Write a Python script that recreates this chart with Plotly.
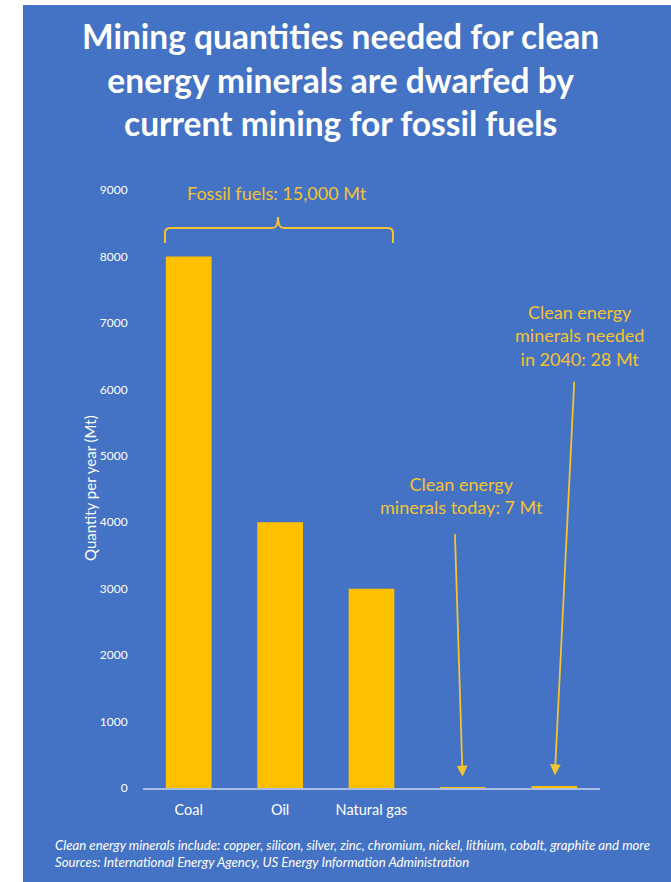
import plotly.graph_objects as go

# Annual mining quantities (Mt)
categories = ["Coal", "Oil", "Natural gas", "Clean energy minerals today", "Clean energy minerals 2040"]
tick_labels = ["Coal", "Oil", "Natural gas", "", ""]
quantities = [8000, 4000, 3000, 7, 28]
y_ticks = [0, 1000, 2000, 3000, 4000, 5000, 6000, 7000, 8000, 9000]

fossil_total = sum(quantities[:3])

W, H = 671, 882
ML, MR, MT, MB = 143, 71, 190, 94
PW, PH = W - ML - MR, H - MT - MB

BLUE = "#4472C4"
GOLD = "#FFC000"
LABEL_GOLD = "#F4C330"
FONT = "Lato"


def px(x):
    return (x - ML) / PW


def py(y):
    return (H - MB - y) / PH


fig = go.Figure(
    go.Bar(
        x=categories,
        y=quantities,
        marker=dict(color=GOLD, line=dict(width=0)),
        hoverinfo="x+y",
    )
)

shapes = [
    # blue panel behind everything
    dict(type="rect", xref="paper", yref="paper", layer="below",
         x0=px(23), x1=px(W + 5), y0=py(H + 5), y1=py(5),
         fillcolor=BLUE, line=dict(width=0)),
]

# curly brace spanning the three fossil fuel bars
bx0, bx1, bmid = px(165), px(393), px(278)
ytop, ymid, ybot, ytip = py(228), py(230), py(243), py(217)
r = 0.012
brace = (
    f"M {bx0},{ybot} L {bx0},{ymid - 0.005} Q {bx0},{ytop} {bx0 + r},{ytop} "
    f"L {bmid - r},{ytop} Q {bmid},{ytop} {bmid},{ytip} "
    f"Q {bmid},{ytop} {bmid + r},{ytop} L {bx1 - r},{ytop} "
    f"Q {bx1},{ytop} {bx1},{ymid - 0.005} L {bx1},{ybot}"
)
shapes.append(dict(type="path", xref="paper", yref="paper", path=brace,
                   line=dict(color=LABEL_GOLD, width=2)))

annotations = [
    dict(text="<b>Mining quantities needed for clean<br>energy minerals are dwarfed by<br>current mining for fossil fuels</b>",
         xref="paper", yref="paper", x=px(340), y=py(79), xanchor="center", yanchor="middle",
         showarrow=False, align="center",
         font=dict(family=FONT, size=33.5, color="white")),
    dict(text=f"Fossil fuels: {fossil_total:,} Mt",
         xref="paper", yref="paper", x=px(277), y=py(193), xanchor="center", yanchor="middle",
         showarrow=False, font=dict(family=FONT, size=18, color=LABEL_GOLD)),
    dict(text="Clean energy<br>minerals today: 7 Mt",
         xref="paper", yref="paper", x=px(461), y=py(495), xanchor="center", yanchor="middle",
         showarrow=False, align="center", font=dict(family=FONT, size=18, color=LABEL_GOLD)),
    dict(text="Clean energy<br>minerals needed<br>in 2040: 28 Mt",
         xref="paper", yref="paper", x=px(579), y=py(335), xanchor="center", yanchor="middle",
         showarrow=False, align="center", font=dict(family=FONT, size=18, color=LABEL_GOLD)),
    # arrows pointing at the two clean-energy bars (tail offsets in pixels)
    dict(text="", x=categories[3], y=quantities[3], xref="x", yref="y",
         ax=-8, ay=-255, axref="pixel", ayref="pixel",
         showarrow=True, arrowhead=2, arrowsize=1.2, arrowwidth=1.8, arrowcolor=LABEL_GOLD,
         standoff=11),
    dict(text="", x=categories[4], y=quantities[4], xref="x", yref="y",
         ax=20, ay=-406, axref="pixel", ayref="pixel",
         showarrow=True, arrowhead=2, arrowsize=1.2, arrowwidth=1.8, arrowcolor=LABEL_GOLD,
         standoff=11),
    dict(text="<i>Clean energy minerals include: copper, silicon, silver, zinc, chromium, nickel, lithium, cobalt, graphite and more<br>"
              "Sources: International Energy Agency, US Energy Information Administration</i>",
         xref="paper", yref="paper", x=px(53), y=py(853), xanchor="left", yanchor="middle",
         showarrow=False, align="left", font=dict(family=FONT, size=13.2, color="white")),
    dict(text="Quantity per year (Mt)", textangle=-90,
         xref="paper", yref="paper", x=px(90), y=py(488), xanchor="center", yanchor="middle",
         showarrow=False, font=dict(family=FONT, size=15, color="white")),
]

fig.update_layout(
    width=W, height=H,
    margin=dict(l=ML, r=MR, t=MT, b=MB, pad=0),
    paper_bgcolor="white",
    plot_bgcolor="rgba(0,0,0,0)",
    bargap=0.5,
    showlegend=False,
    shapes=shapes,
    annotations=annotations,
    font=dict(family=FONT, color="white"),
    xaxis=dict(
        tickmode="array", tickvals=categories, ticktext=tick_labels,
        showline=True, linecolor="#A9BCE3", linewidth=1.5,
        showgrid=False, ticks="outside", ticklen=8, tickcolor="rgba(0,0,0,0)",
        tickfont=dict(size=14.5, color="white"),
        fixedrange=True,
    ),
    yaxis=dict(
        range=[0, 9000], tickvals=y_ticks, showgrid=False, zeroline=False,
        showline=False, ticks="outside", ticklen=12, tickcolor="rgba(0,0,0,0)",
        tickfont=dict(size=12, color="white"), fixedrange=True,
    ),
)

fig.write_html("out.html")
